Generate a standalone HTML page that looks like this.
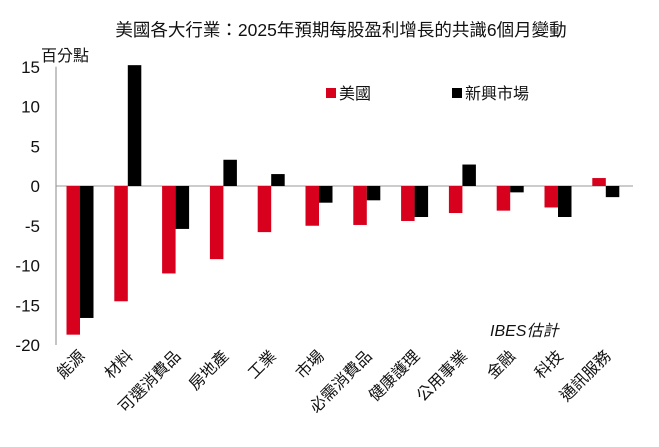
<!DOCTYPE html>
<html><head><meta charset="utf-8"><style>
body{margin:0;background:#fff;font-family:"Liberation Sans","Noto Sans CJK TC",sans-serif;}
svg text{font-family:"Liberation Sans","Noto Sans CJK TC",sans-serif;}
</style></head><body>
<svg id="chart" width="659" height="442" xmlns="http://www.w3.org/2000/svg">
<text x="341" y="36" font-size="17.5" text-anchor="middle" fill="#111">美國各大行業：2025年預期每股盈利增長的共識6個月變動</text>
<text x="41" y="61" font-size="16" fill="#111">百分點</text>
<g id="axes"></g><g id="bars"></g>
<rect x="326" y="88" width="10" height="10" fill="#d7001d"/>
<text x="339" y="99" font-size="16" fill="#111">美國</text>
<rect x="452" y="88" width="10" height="10" fill="#000"/>
<text x="465" y="99" font-size="16" fill="#111">新興市場</text>
<text x="490" y="336" font-size="16" font-style="italic" fill="#111">IBES估計</text>
</svg>
<script>
const categories=["能源","材料","可選消費品","房地產","工業","市場","必需消費品","健康護理","公用事業","金融","科技","通訊服務"];
const usValues=[-18.7,-14.5,-11.0,-9.2,-5.8,-5.0,-4.9,-4.4,-3.4,-3.1,-2.7,1.0];
const emValues=[-16.6,15.2,-5.4,3.3,1.5,-2.1,-1.8,-3.9,2.7,-0.8,-3.9,-1.4];
const yTicks=[15,10,5,0,-5,-10,-15,-20];
const NS="http://www.w3.org/2000/svg";
const y=v=>186-v*7.95;
const x0=56, step=47.8;
const xc=i=>x0+24+i*step;
const axes=document.getElementById('axes'), bars=document.getElementById('bars');
function mk(t,a,p){const e=document.createElementNS(NS,t);for(const k in a)e.setAttribute(k,a[k]);p.appendChild(e);return e;}
let l=mk('line',{x1:x0,x2:x0,y1:y(15),y2:y(-20),stroke:'#888','stroke-width':1},axes);


l=mk('line',{x1:x0,x2:633,y1:y(0),y2:y(0),stroke:'#999','stroke-width':1},axes);


yTicks.forEach(v=>{const t=mk('text',{x:40,y:y(v)+6,'font-size':17,'text-anchor':'end',fill:'#111'},axes);t.textContent=v;

});
categories.forEach((c,i)=>{
 const cx=xc(i),w=13.5;
 [[usValues[i],'#d7001d',cx-w,'bar-us'],[emValues[i],'#000',cx,'bar-em']].forEach(([v,col,bx,n])=>{
  const r=mk('rect',{x:bx,y:Math.min(y(v),y(0)),width:w,height:Math.abs(y(v)-y(0)),fill:col},bars);
  
  
 });
 const t=mk('text',{x:cx+6,y:357,'font-size':16,'text-anchor':'end',fill:'#111',transform:`rotate(-45 ${cx+6} 357)`},axes);
 t.textContent=c;
 
 
});
</script>
</body></html>
